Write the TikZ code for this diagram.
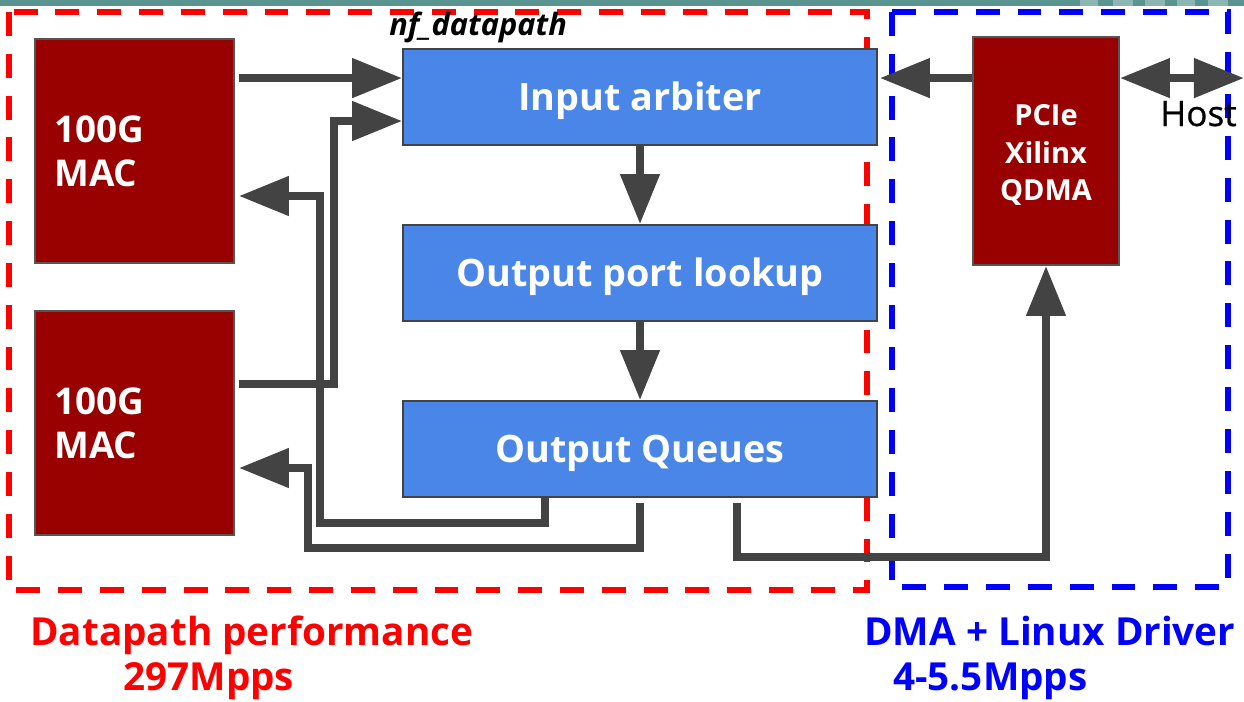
\documentclass[tikz,border=0pt]{standalone}
\usepackage{fontspec}
\setmainfont{Open Sans}
\newfontfamily\hostfont[FakeBold=0.7]{Open Sans}
\usetikzlibrary{arrows.meta,calc}

\definecolor{macred}{HTML}{990000}
\definecolor{blockblue}{HTML}{4A86E8}
\definecolor{wire}{HTML}{434343}
\definecolor{edgegray}{HTML}{555555}
\definecolor{barteal}{HTML}{5A9490}
\definecolor{barlight}{HTML}{8CB6B3}
\definecolor{dpred}{HTML}{FF0000}
\definecolor{dmablue}{HTML}{0000FF}

\begin{document}
\begin{tikzpicture}[x=0.02cm,y=-0.02cm,
  macbox/.style={draw=edgegray, line width=1.1pt, fill=macred, inner sep=0pt,
    minimum width=3.98cm, minimum height=4.48cm},
  mactxt/.style={text=white, inner sep=0pt, align=left,
    font=\bfseries\fontsize{21pt}{25pt}\selectfont},
  blockbox/.style={draw=wire, line width=1.1pt, fill=blockblue, inner sep=0pt,
    minimum width=9.48cm, minimum height=1.92cm, text=white,
    text height=15.4pt, text depth=0pt,
    font=\bfseries\fontsize{21.5pt}{26pt}\selectfont},
  dmabox/.style={draw=edgegray, line width=1.1pt, fill=macred, inner sep=0pt,
    minimum width=2.92cm, minimum height=4.56cm},
  dmatxt/.style={text=white, align=center, inner sep=0pt,
    font=\bfseries\fontsize{16.5pt}{21.5pt}\selectfont},
  arr/.style={draw=wire, line width=4.5pt,
    -{Triangle[length=1cm,width=0.76cm]}},
  arrboth/.style={draw=wire, line width=4.5pt,
    {Triangle[length=1cm,width=0.76cm]}-{Triangle[length=1cm,width=0.76cm]}},
  frame/.style={line width=3.4pt, dash pattern=on 13.6pt off 10.2pt},
  caption/.style={inner sep=0pt, anchor=base west,
    font=\bfseries\fontsize{22pt}{26pt}\selectfont}
]
\useasboundingbox (0,0) rectangle (1244,701);
\fill[white] (0,0) rectangle (1244,701);

% slide header strip
\fill[barteal] (0,0) rectangle (1244,6);
\foreach \a/\b in {1080/1098,1113/1133,1145/1165,1177/1195,1208/1228}
  \fill[barlight] (\a,0) rectangle (\b,6);

% grouping frames
\draw[frame, dpred] (9,12) rectangle (867,590);
\draw[frame, dmablue] (892,12) rectangle (1228,587);

% blocks
\node[macbox] (mac1) at (134.5,151) {};
\node[macbox] (mac2) at (134.5,423) {};
\node[mactxt, anchor=west] (mac1txt) at ($(mac1.west)+(20,0)$) {100G\\MAC};
\node[mactxt, anchor=west] (mac2txt) at ($(mac2.west)+(20,0)$) {100G\\MAC};

\node[blockbox] (ia)  at (640,97)  {Input arbiter};
\node[blockbox] (opl) at (640,273) {Output port lookup};
\node[blockbox] (oq)  at (640,449) {Output Queues};

\node[dmabox] (pcie) at (1046,151) {};
\node[dmatxt] (pcietxt) at ($(pcie.center)+(0,4)$) {PCIe\\Xilinx\\QDMA};

\node[inner sep=0pt, anchor=base west,
  font=\bfseries\itshape\fontsize{17.5pt}{20pt}\selectfont] (dplabel) at (389,35) {nf\_datapath};
\node[inner sep=0pt, anchor=base west,
  font=\hostfont\fontsize{20pt}{24pt}\selectfont] (host) at (1160,126) {Host};

% connectors
\draw[arr] ($(mac1.north east)+(4,40)$) coordinate (m1out) -- (m1out -| ia.west);
\draw[arr] ($(mac2.north east)+(4,74)$) -| ($(ia.west)+(-68,24)$) -- ($(ia.west)+(0,24)$);
\draw[arr] (ia.south) -- (opl.north);
\draw[arr] (opl.south) -- (oq.north);
\draw[arr] ($(oq.south)+(-95,0)$) -- ++(0,25) -| ($(mac1.east)+(85,45)$) -- ($(mac1.east)+(4,45)$);
\draw[arr] ($(oq.south)+(0,5)$) -- ++(0,45) -| ($(mac2.east)+(73,45)$) -- ($(mac2.east)+(4,45)$);
\draw[arr] ($(oq.south)+(97,5)$) -- ++(0,54) -| (pcie.south);
\draw[arr] ($(pcie.north west)+(0,42)$) coordinate (pout) -- ($(pout -| ia.east)+(2,0)$);
\draw[arrboth] ($(pcie.north east)+(0,42)$) -- ++(124,0);

% performance notes
\node[caption, text=dpred] (dpnote) at (30,645) {Datapath performance};
\node[caption, text=dpred] (dprate) at (123,690) {297Mpps};
\node[caption, text=dmablue] (dmanote) at (864,645) {DMA + Linux Driver};
\node[caption, text=dmablue] (dmarate) at (893,690) {4-5.5Mpps};
\end{tikzpicture}
\end{document}
